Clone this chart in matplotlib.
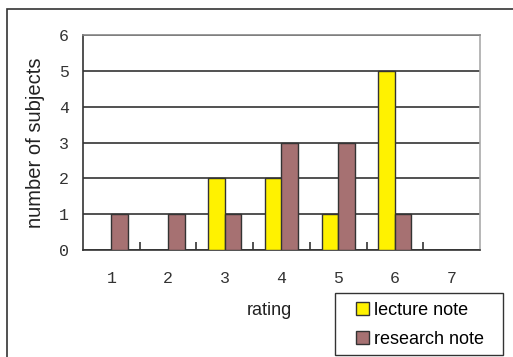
import numpy as np
import matplotlib
matplotlib.use("Agg")
import matplotlib.pyplot as plt
from matplotlib.patches import Rectangle

ratings = ["1", "2", "3", "4", "5", "6", "7"]
lecture_note = [0, 0, 2, 2, 1, 5, 0]
research_note = [1, 1, 1, 3, 3, 1, 0]
yticks = [0, 1, 2, 3, 4, 5, 6]


def main():
    fig = plt.figure(figsize=(5.13, 3.57), dpi=100)

    # outer chart frame, runs off the right and bottom edges
    fig.patches.append(Rectangle((7 / 513, -0.1), 1.2, (357 - 9) / 357 + 0.1,
                                 transform=fig.transFigure, fill=False,
                                 edgecolor="#333333", linewidth=1.2))

    ax = fig.add_axes([83 / 513, 107 / 357, 397 / 513, 215 / 357])
    x = np.arange(1, len(ratings) + 1)
    w = 0.29
    ax.bar(x - w / 2, lecture_note, w, color="#fff200", edgecolor="#333333",
           linewidth=1, label="lecture note", zorder=3)
    ax.bar(x + w / 2, research_note, w, color="#a67172", edgecolor="#333333",
           linewidth=1, label="research note", zorder=3)

    ax.set_xlim(0.5, 7.5)
    ax.set_ylim(0, 6)
    ax.set_yticks(yticks)
    ax.set_xticks(x)
    ax.set_xticklabels(ratings)
    ax.set_xticks(np.arange(1.5, 7.5, 1), minor=True)
    ax.yaxis.grid(True, color="#333333", linewidth=1.2, zorder=0)
    ax.tick_params(axis="x", which="major", length=0, pad=15)
    ax.tick_params(axis="x", which="minor", direction="in", length=6,
                   color="#333333", width=1.2)
    ax.tick_params(axis="y", length=0, pad=10)
    for lab in ax.get_xticklabels() + ax.get_yticklabels():
        lab.set_family("Liberation Mono")
        lab.set_fontsize(12)
        lab.set_color("#333333")

    ax.spines["left"].set_color("#333333")
    ax.spines["bottom"].set_color("#333333")
    ax.spines["top"].set_color("#888888")
    ax.spines["right"].set_color("#aaaaaa")
    for s in ax.spines.values():
        s.set_linewidth(1.2)

    ax.set_xlabel("rating", fontsize=13, color="#222222",
                  family="Liberation Sans")
    ax.set_ylabel("number of subjects", fontsize=14.5, color="#222222",
                  family="Liberation Sans")
    ax.xaxis.set_label_coords(0.47, -0.24)
    ax.yaxis.set_label_coords(-0.095, 0.5)

    # legend box drawn on its own, legend entries placed inside it
    fig.patches.append(Rectangle((335 / 513, 2 / 357), 168 / 513, 62 / 357,
                                 transform=fig.transFigure, fill=False,
                                 edgecolor="#333333", linewidth=1))
    ax.legend(loc="upper left", bbox_to_anchor=(356 / 513, 55 / 357),
              bbox_transform=fig.transFigure, frameon=False,
              prop={"family": "Liberation Sans", "size": 13},
              handlelength=0.72, handleheight=0.72, handletextpad=0.3,
              borderpad=0, borderaxespad=0, labelspacing=0.66)

    fig.savefig("out.png", dpi=100)


if __name__ == "__main__":
    main()
